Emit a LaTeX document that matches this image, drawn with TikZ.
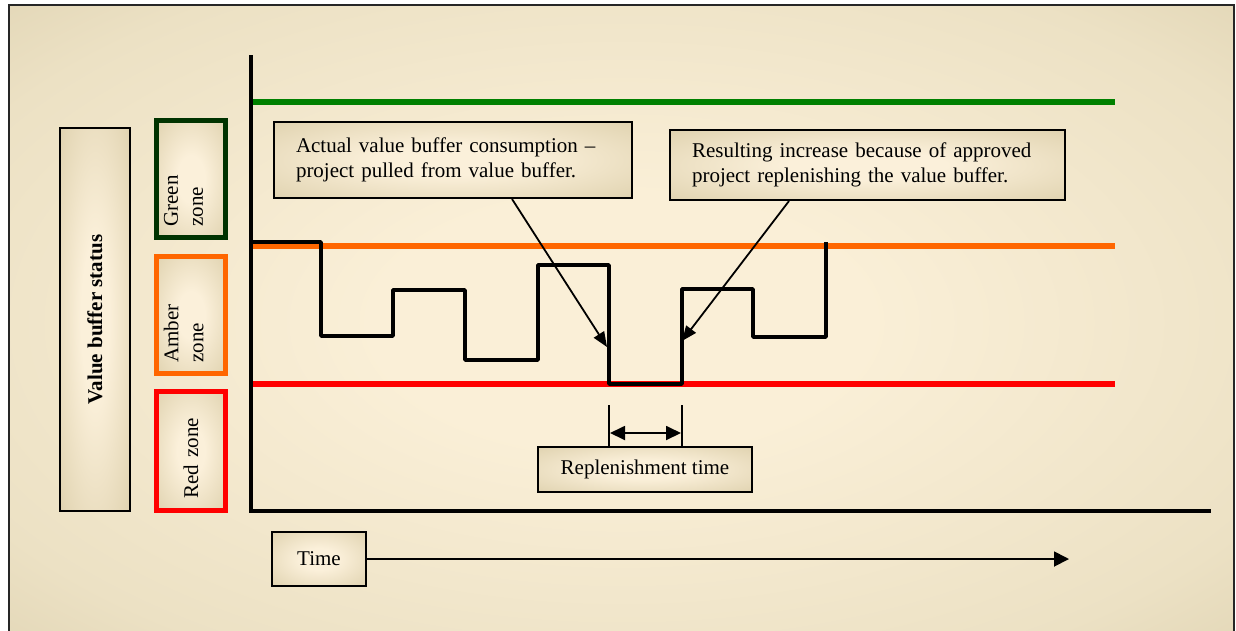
\documentclass[tikz,border=0pt]{standalone}
\usepackage{fontspec}
\setmainfont{Liberation Serif}
\usetikzlibrary{arrows.meta}

\definecolor{bgin}{RGB}{250,239,215}
\definecolor{bgmid}{RGB}{236,225,196}
\definecolor{bgout}{RGB}{210,197,160}
\definecolor{boxin}{RGB}{251,240,218}
\definecolor{boxmid}{RGB}{228,215,182}
\definecolor{boxout}{RGB}{200,186,148}
\definecolor{zgreen}{RGB}{0,128,0}
\definecolor{zdkgreen}{RGB}{0,51,0}
\definecolor{zorange}{RGB}{255,102,0}
\definecolor{zred}{RGB}{255,0,0}

\pgfdeclareradialshading{boxglow}{\pgfpoint{0bp}{0bp}}{color(0bp)=(boxin); color(10bp)=(boxin); color(32bp)=(boxmid); color(50bp)=(boxout)}
\pgfdeclareradialshading{bgglow}{\pgfpoint{0bp}{0bp}}{color(0bp)=(bgin); color(10bp)=(bgin); color(30bp)=(bgmid); color(48bp)=(bgout)}

\tikzset{
  glowbox/.style={draw=black, line width=2pt, shade, shading=boxglow,
    font=\fontsize{21}{25}\selectfont, inner sep=0pt},
  zonebox/.style={glowbox, rotate=90, line width=5pt, minimum height=69pt,
    text width=95pt, inner xsep=11pt, align=left},
  zoneline/.style={line width=6pt},
  stepline/.style={line width=3.5pt, line join=round},
  pointer/.style={line width=1.8pt, -{Triangle[length=15pt,width=12pt]}},
  spanarrow/.style={line width=1.8pt, {Triangle[length=15pt,width=14pt]}-{Triangle[length=15pt,width=14pt]}},
  timearrow/.style={line width=1.8pt, -{Triangle[length=15pt,width=15pt]}},
  tickline/.style={line width=1.5pt}
}

\begin{document}
\begin{tikzpicture}[x=1pt, y=-1pt]
  \useasboundingbox (0,0) rectangle (1236,630);

  % background panel with its frame
  \shade[shading=bgglow] (9,5) rectangle (1234,640);
  \draw[line width=2pt, draw=black!85] (9,5) rectangle (1234,640);

  % zone legend on the left
  \node[glowbox, rotate=90, minimum width=383pt, minimum height=70pt,
        font=\fontsize{21}{25}\selectfont\bfseries] (status) at (95,319.5) {Value buffer status};
  \node[zonebox, draw=zdkgreen, text depth=40pt] (green) at (191,179) {Green\\zone};
  \node[zonebox, draw=zorange, text depth=40pt] (amber) at (191,315) {Amber\\zone};
  \node[zonebox, draw=zred, minimum width=119pt] (red) at (191,451) {Red zone};

  % axes
  \coordinate (ytop) at (251,55);
  \coordinate (origin) at (251,511);
  \coordinate (xend) at (1211,511);
  \draw[line width=4.5pt, line join=miter] (ytop) -- (origin) -- (xend);

  % zone limits
  \draw[zoneline, zgreen] (253,102) -- (1115,102);
  \draw[zoneline, zorange] (253,246) -- (1115,246);
  \draw[zoneline, zred] (253,384) -- (1115,384);

  % buffer level over time
  \draw[stepline] (252,242) -- (321,242) -- (321,336) -- (393,336) -- (393,290)
    -- (465,290) -- (465,360) -- (538,360) -- (538,265) -- (609,265)
    -- (609,384) -- (682,384) -- (682,289) -- (753,289) -- (753,337)
    -- (826,337) -- (826,242);

  % callouts
  \node[glowbox, minimum width=358pt, minimum height=76pt, text width=314pt,
        inner xsep=22pt, align=left] (consume) at (453,160)
        {Actual value buffer consumption –\\project pulled from value buffer.};
  \node[glowbox, minimum width=395pt, minimum height=70pt, text width=351pt,
        inner xsep=22pt, align=left] (increase) at (867.5,165)
        {Resulting increase because of approved\\project replenishing the value buffer.};

  \coordinate (c1) at (512,0);
  \coordinate (c2) at (789,0);
  \coordinate (drop) at (607,347);
  \coordinate (rise) at (682,341);
  \draw[pointer] (consume.south -| c1) -- (drop);
  \draw[pointer] (increase.south -| c2) -- (rise);

  % replenishment time span
  \coordinate (r1top) at (609,405);
  \coordinate (r1bot) at (609,446);
  \coordinate (r2top) at (682,405);
  \coordinate (r2bot) at (682,446);
  \draw[tickline] (r1top) -- (r1bot);
  \draw[tickline] (r2top) -- (r2bot);
  \coordinate (s1) at (610,433);
  \coordinate (s2) at (681,433);
  \draw[spanarrow] (s1) -- (s2);
  \node[glowbox, minimum width=214pt, minimum height=45pt] (replen) at (645,469.5) {Replenishment time};

  % time axis label
  \node[glowbox, line width=2.5pt, minimum width=94pt, minimum height=54pt] (time) at (319,559) {Time};
  \coordinate (tend) at (1069,559);
  \draw[timearrow] (time.east) -- (tend);
\end{tikzpicture}
\end{document}
